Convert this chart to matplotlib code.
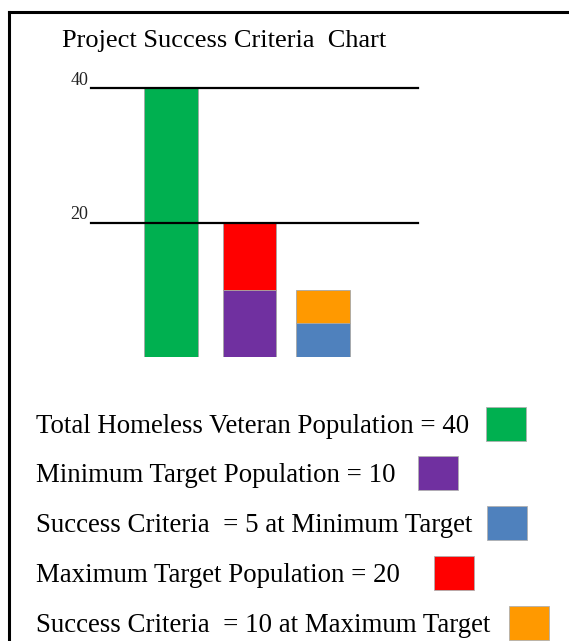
import matplotlib
matplotlib.use("Agg")
import matplotlib.pyplot as plt
from matplotlib.patches import Rectangle
from matplotlib.lines import Line2D

# ---- data ----
bar_positions = [0, 1.02, 1.98]
total_population = 40
min_target = 10
max_target = 20
success_min = 5
success_max = 10
ytick_values = [20, 40]
ytick_labels = ["20", "40"]
title = "Project Success Criteria  Chart"
legend_labels = [
    "Total Homeless Veteran Population = 40",
    "Minimum Target Population = 10",
    "Success Criteria  = 5 at Minimum Target",
    "Maximum Target Population = 20",
    "Success Criteria  = 10 at Maximum Target",
]

GREEN = "#00B050"
PURPLE = "#7030A0"
BLUE = "#4F81BD"
RED = "#FF0000"
ORANGE = "#FF9900"
legend_colors = [GREEN, PURPLE, BLUE, RED, ORANGE]

W, H = 569, 641
fig = plt.figure(figsize=(W / 100, H / 100), dpi=100)
serif = ["Liberation Serif", "DejaVu Serif"]

def fx(px):
    return px / W

def fy(py):
    return 1 - py / H

# axes: x from 91 to 418 px, y zero at 357 px, 40 at 88 px
ax = fig.add_axes([fx(91), fy(357), fx(418) - fx(91), fy(88) - fy(357)])
ax.set_xlim(-1.04, 3.21)
ax.set_ylim(0, 40)
ax.axis("off")

bw = 0.70
edge = dict(edgecolor="#A6A6A6", linewidth=0.6)
ax.bar(bar_positions[0], total_population, width=bw, color=GREEN, **edge)
ax.bar(bar_positions[1], min_target, width=bw, color=PURPLE, **edge)
ax.bar(bar_positions[1], max_target - min_target, bottom=min_target, width=bw, color=RED, **edge)
ax.bar(bar_positions[2], success_min, width=bw, color=BLUE, **edge)
ax.bar(bar_positions[2], success_max - success_min, bottom=success_min, width=bw, color=ORANGE, **edge)

for v, lab in zip(ytick_values, ytick_labels):
    ax.axhline(v, color="black", linewidth=1.6, clip_on=False, zorder=3)
    ax.annotate(lab, xy=(0, v), xycoords=("axes fraction", "data"),
                xytext=(-2, -0.5), textcoords="offset points",
                ha="right", va="bottom", fontsize=13, family=serif, color="#222222")

fig.text(fx(62), fy(47), title, fontsize=19, family=serif, ha="left", va="baseline")

baselines = [433, 482, 532, 582, 632]
sw_x = [486, 418, 487, 434, 509]
for lab, c, b, sx in zip(legend_labels, legend_colors, baselines, sw_x):
    fig.text(fx(36), fy(b), lab, fontsize=19.4, family=serif, ha="left", va="baseline")
    cy = b - 9.5
    fig.add_artist(Rectangle((fx(sx), fy(cy + 17)), fx(40), 34 / H,
                             transform=fig.transFigure, facecolor=c,
                             edgecolor="#B0B0B0", linewidth=0.6))

# frame: top and left border
fig.add_artist(Line2D([fx(8.5), 1], [fy(12), fy(12)], color="black", linewidth=2.2,
                      transform=fig.transFigure))
fig.add_artist(Line2D([fx(8.5), fx(8.5)], [fy(12), 0], color="black", linewidth=2.2,
                      transform=fig.transFigure))

fig.savefig("out.png", dpi=100)
